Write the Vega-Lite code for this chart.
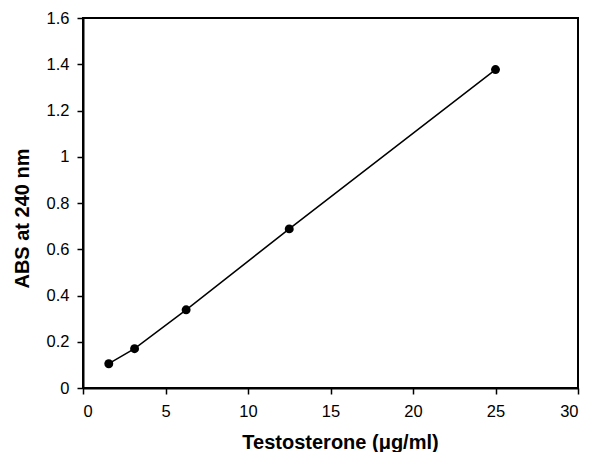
{
  "$schema": "https://vega.github.io/schema/vega-lite/v6.json",
  "width": 495,
  "height": 370,
  "autosize": {"type": "none"},
  "padding": {"left": 83, "top": 18, "right": 13, "bottom": 64},
  "background": "white",
  "config": {
    "view": {"stroke": "black", "strokeWidth": 2},
    "axis": {
      "grid": false,
      "domainColor": "black",
      "domainWidth": 2,
      "tickColor": "black",
      "tickWidth": 1.5,
      "tickSize": 6,
      "labelFont": "Liberation Sans",
      "labelFontSize": 16.5,
      "labelColor": "black",
      "titleFont": "Liberation Sans",
      "titleFontSize": 20,
      "titleFontWeight": "bold",
      "titleColor": "black"
    }
  },
  "data": {
    "values": [
      {"conc": 1.5625, "abs": 0.105},
      {"conc": 3.125, "abs": 0.17},
      {"conc": 6.25, "abs": 0.338},
      {"conc": 12.5, "abs": 0.688},
      {"conc": 25, "abs": 1.377}
    ]
  },
  "encoding": {
    "x": {
      "field": "conc", "type": "quantitative",
      "scale": {"domain": [0, 30], "nice": false, "zero": true},
      "axis": {"values": [0, 5, 10, 15, 20, 25, 30], "format": "~g", "title": "Testosterone (μg/ml)", "labelPadding": 9, "titlePadding": 13, "titleX": 257}
    },
    "y": {
      "field": "abs", "type": "quantitative",
      "scale": {"domain": [0, 1.6], "nice": false},
      "axis": {"values": [0, 0.2, 0.4, 0.6, 0.8, 1, 1.2, 1.4, 1.6], "format": "~g", "title": "ABS at 240 nm", "labelPadding": 8, "titlePadding": 14, "titleY": 200}
    }
  },
  "layer": [
    {"mark": {"type": "line", "color": "black", "strokeWidth": 1.5}},
    {"mark": {"type": "point", "filled": true, "color": "black", "opacity": 1, "size": 80}}
  ]
}
